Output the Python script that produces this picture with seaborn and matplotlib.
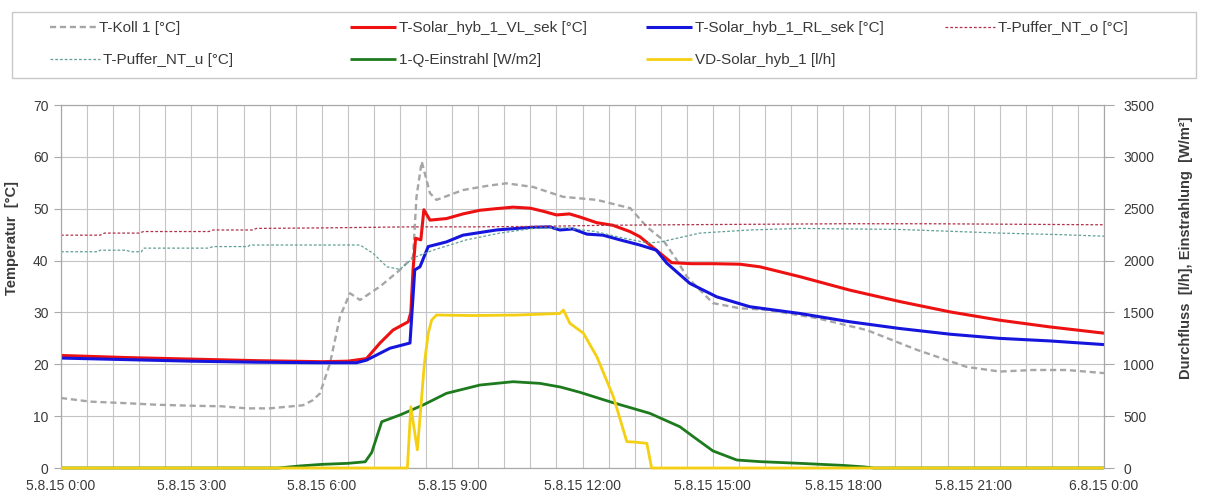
import numpy as np
import pandas as pd
import matplotlib
matplotlib.use("Agg")
import matplotlib.pyplot as plt
import seaborn as sns
from matplotlib.patches import Rectangle

# ---- measured series (time in hours since 5.8.15 0:00) ----
koll_h = [0, 0.67, 1.5, 2.2, 3.04, 3.7, 4.27, 4.8, 5.19, 5.57, 5.8, 5.96, 6.19, 6.42,
          6.65, 6.88, 7.34, 7.8, 8.1, 8.18, 8.3, 8.49, 8.64, 9.25, 9.8, 10.25, 10.86,
          11.55, 12.33, 13.1, 13.48, 13.85, 14.17, 14.4, 15.0, 15.62, 16.24, 17.39,
          18.54, 19.69, 20.84, 21.6, 22.37, 23.14, 24]
koll_t = [13.5, 12.8, 12.5, 12.2, 12.0, 11.9, 11.5, 11.5, 11.8, 12.1, 13.1, 14.4, 20.2, 29.2,
          33.7, 32.4, 35.0, 38.2, 40.7, 52.3, 59.1, 53.0, 51.7, 53.6, 54.4, 54.9, 54.2,
          52.3, 51.7, 50.1, 46.5, 44.0, 40.1, 36.9, 31.8, 30.8, 30.5, 28.9,
          26.6, 22.8, 19.5, 18.6, 18.9, 18.9, 18.3]

vl_h = [0, 1.5, 3, 4.5, 6.0, 6.6, 7.03, 7.34, 7.64, 7.99, 8.05, 8.1, 8.16, 8.28, 8.35,
        8.49, 8.87, 9.25, 9.64, 10.0, 10.4, 10.8, 11.1, 11.4, 11.7, 11.94, 12.33, 12.7,
        13.09, 13.32, 13.7, 14.05, 14.5, 15.0, 15.62, 16.08, 17.0, 18.15, 19.3, 20.46,
        21.6, 22.76, 24]
vl_t = [21.7, 21.3, 21.0, 20.7, 20.5, 20.6, 21.1, 24.1, 26.6, 28.2, 30.0, 38.2, 44.3, 44.0, 49.8,
        47.8, 48.1, 49.0, 49.7, 50.0, 50.3, 50.1, 49.5, 48.8, 49.0, 48.4, 47.3, 46.8,
        45.6, 44.6, 42.0, 39.6, 39.4, 39.4, 39.3, 38.8, 36.9, 34.3, 32.1, 30.1,
        28.5, 27.2, 26.0]

rl_h = [0, 1.5, 3, 4.5, 6.0, 6.8, 7.03, 7.57, 8.03, 8.1, 8.14, 8.26, 8.45, 8.87, 9.25,
        10.02, 10.79, 11.25, 11.48, 11.78, 12.1, 12.47, 12.86, 13.32, 13.7, 13.94, 14.47,
        15.09, 15.85, 17.0, 18.15, 19.3, 20.46, 21.6, 22.76, 24]
rl_t = [21.2, 20.9, 20.6, 20.4, 20.3, 20.3, 20.8, 23.1, 24.1, 33.0, 38.2, 38.8, 42.7, 43.6, 44.9,
        45.9, 46.4, 46.5, 45.9, 46.1, 45.1, 44.9, 44.0, 43.0, 42.0, 39.5, 35.6,
        33.0, 31.1, 29.8, 28.2, 26.9, 25.8, 25.0, 24.5, 23.8]

po_h = [0, 0.9, 1.0, 1.8, 1.9, 3.4, 3.5, 4.4, 4.5, 6.0, 7.0, 8.0, 9.5, 11.0, 12.5,
        14.0, 16.0, 18.0, 20.0, 22.0, 24]
po_t = [44.9, 44.9, 45.3, 45.3, 45.6, 45.6, 45.9, 45.9, 46.2, 46.3, 46.4, 46.5, 46.5, 46.6, 46.8,
        46.9, 47.0, 47.1, 47.1, 47.0, 46.9]

pu_h = [0, 0.85, 0.9, 1.5, 1.6, 1.85, 1.9, 3.4, 3.5, 4.3, 4.35, 6.2, 6.88, 7.18, 7.5, 7.8,
        8.1, 8.56, 9.33, 10.1, 10.86, 11.6, 12.3, 12.9, 13.5, 13.8, 14.7, 15.85, 17.0,
        19.3, 21.6, 23.0, 24]
pu_t = [41.7, 41.7, 42.0, 42.0, 41.7, 41.7, 42.4, 42.4, 42.7, 42.7, 43.0, 43.0, 43.0, 41.4, 38.8, 38.3,
        40.5, 42.0, 44.0, 45.3, 46.2, 46.3, 45.6, 44.4, 43.4, 43.6, 45.3, 45.9, 46.2,
        46.0, 45.3, 45.0, 44.7]

q_h = [0, 5.0, 5.5, 6.0, 6.6, 7.0, 7.15, 7.38, 7.8, 8.33, 8.87, 9.64, 10.4, 11.02, 11.5,
       11.94, 12.63, 13.55, 14.24, 14.55, 15.0, 15.55, 16.1, 17.0, 18.0, 18.5, 18.7, 24]
q_w = [0, 0, 20, 35, 45, 60, 150, 446, 511, 607, 720, 800, 832, 816, 780,
       730, 639, 527, 398, 302, 165, 77, 61, 45, 25, 10, 0, 0]

vd_h = [0, 7.97, 8.05, 8.2, 8.36, 8.45, 8.53, 8.64, 9.5, 10.5, 11.48, 11.56, 11.71,
        12.02, 12.33, 12.71, 13.02, 13.2, 13.48, 13.59, 24]
vd_l = [0, 0, 590, 175, 1000, 1300, 1427, 1475, 1470, 1475, 1490, 1523, 1395,
        1300, 1073, 687, 254, 250, 238, 0, 0]

x_tick_hours = [0, 3, 6, 9, 12, 15, 18, 21, 24]
x_tick_labels = ["5.8.15 0:00", "5.8.15 3:00", "5.8.15 6:00", "5.8.15 9:00",
                 "5.8.15 12:00", "5.8.15 15:00", "5.8.15 18:00", "5.8.15 21:00",
                 "6.8.15 0:00"]
temp_ticks = [0, 10, 20, 30, 40, 50, 60, 70]
flow_ticks = [0, 500, 1000, 1500, 2000, 2500, 3000, 3500]

labels = ["T-Koll 1 [°C]", "T-Solar_hyb_1_VL_sek [°C]", "T-Solar_hyb_1_RL_sek [°C]",
          "T-Puffer_NT_o [°C]", "T-Puffer_NT_u [°C]", "1-Q-Einstrahl [W/m2]",
          "VD-Solar_hyb_1 [l/h]"]

# ---- styling ----
sns.set_theme(style="whitegrid")
plt.rcParams["font.family"] = ["Liberation Sans", "DejaVu Sans"]
TXT = "#3a3a3a"
GRID = "#c4c4c4"

W, H = 1208, 494
fig = plt.figure(figsize=(W / 100, H / 100), dpi=100)
fig.patch.set_facecolor("white")
L, R, T, B = 61, 1104, 105, 468
ax = fig.add_axes([L / W, 1 - B / H, (R - L) / W, (B - T) / H])
ax2 = ax.twinx()


def draw(axis, xs, ys, label, color, lw, dashes=None, clip=True, z=2):
    df = pd.DataFrame({"t": xs, "v": ys})
    sns.lineplot(data=df, x="t", y="v", ax=axis, color=color, linewidth=lw,
                 label=label, estimator=None, sort=False, legend=False)
    line = axis.get_lines()[-1]
    if dashes is not None:
        line.set_dashes(dashes)
    line.set_clip_on(clip)
    line.set_zorder(z)
    line.set_solid_capstyle("butt")
    return line


h_koll = draw(ax, koll_h, koll_t, labels[0], "#a6a6a6", 1.7, dashes=(2.6, 1.6))
h_vl = draw(ax, vl_h, vl_t, labels[1], "#ee1111", 2.2)
h_rl = draw(ax, rl_h, rl_t, labels[2], "#1515dd", 2.2)
h_po = draw(ax, po_h, po_t, labels[3], "#b03048", 0.9, dashes=(2.2, 1.6))
h_pu = draw(ax, pu_h, pu_t, labels[4], "#5f9f95", 0.9, dashes=(2.2, 1.6))
h_q = draw(ax2, q_h, q_w, labels[5], "#1d7a1d", 2.0, clip=False)
h_vd = draw(ax2, vd_h, vd_l, labels[6], "#f5cf12", 2.0, clip=False, z=3)

# ---- axes ----
ax.set_xlim(0, 24)
ax.set_ylim(0, 70)
ax2.set_ylim(0, 3500)
ax.set_xticks(x_tick_hours)
ax.set_xticklabels(x_tick_labels)
ax.set_xticks(np.arange(0, 24.001, 0.6), minor=True)
ax.set_yticks(temp_ticks)
ax2.set_yticks(flow_ticks)
ax.grid(True, which="both", axis="x", color=GRID, linewidth=0.8)
ax.grid(True, which="major", axis="y", color=GRID, linewidth=0.8)
ax2.grid(False)
ax.set_facecolor("white")
ax2.patch.set_visible(False)

for s in list(ax.spines.values()) + list(ax2.spines.values()):
    s.set_color("#a8a8a8")
    s.set_linewidth(0.8)
ax.tick_params(axis="y", left=True, length=5, width=0.8, color="#a8a8a8",
               labelsize=10, labelcolor=TXT, pad=4)
ax2.tick_params(axis="y", right=True, length=7, width=0.8, color="#a8a8a8",
                labelsize=10, labelcolor=TXT, pad=7)
ax.tick_params(axis="x", which="both", length=0, labelsize=10, labelcolor=TXT, pad=8)

ax.set_xlabel("")
ax.set_ylabel("Temperatur  [°C]", fontsize=10.5, fontweight="bold", color=TXT)
ax.yaxis.set_label_coords((19 - L) / (R - L), (B - 238) / (B - T))
ax2.set_ylabel("Durchfluss  [l/h], Einstrahlung  [W/m²]", fontsize=10.5,
               fontweight="bold", color=TXT, rotation=90)
ax2.yaxis.set_label_coords((1179 - L) / (R - L), (B - 248) / (B - T))

for a in (ax, ax2):
    lg = a.get_legend()
    if lg is not None:
        lg.remove()

# ---- legend panel ----
fig.add_artist(Rectangle((12 / W, 1 - 78 / H), (1196 - 12) / W, 66 / H,
                         transform=fig.transFigure, fill=False,
                         edgecolor="#c8c8c8", linewidth=1.0))
entries = [
    (h_koll, labels[0], 50, 28, 46),
    (h_vl, labels[1], 350, 28, 46),
    (h_rl, labels[2], 646, 28, 46),
    (h_po, labels[3], 945, 28, 50),
    (h_pu, labels[4], 50, 60, 50),
    (h_q, labels[5], 350, 60, 46),
    (h_vd, labels[6], 646, 60, 46),
]
fs = 11
for handle, text, xp, yp, hl in entries:
    fig.legend(handles=[handle], labels=[text], loc="center left",
               bbox_to_anchor=(xp / W, 1 - yp / H), frameon=False,
               borderpad=0, borderaxespad=0, handletextpad=0.2,
               handlelength=hl / (fs * 100 / 72), fontsize=fs, labelcolor=TXT)

fig.savefig("out.png", dpi=100, facecolor="white")
